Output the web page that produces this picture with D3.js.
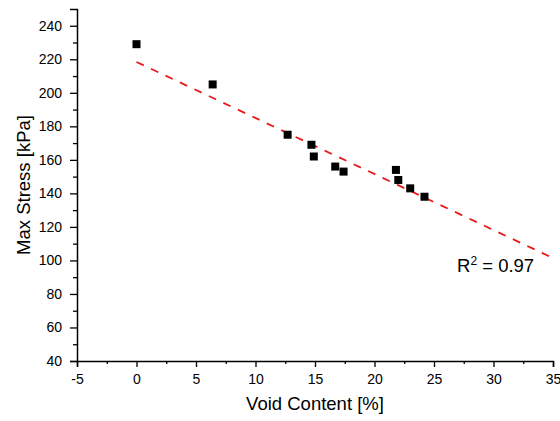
<!DOCTYPE html>
<html>
<head>
<meta charset="utf-8">
<script src="https://cdn.jsdelivr.net/npm/d3@7"></script>
<style>
  body { margin: 0; background: #fff; }
  svg text { font-family: Arial, "Liberation Sans", sans-serif; fill: #000; }
</style>
</head>
<body>
<div id="chart"></div>
<script>
// measured points: void content [%] vs max stress [kPa]
const voidContent = [0, 6.4, 12.7, 14.7, 14.9, 16.7, 17.4, 21.8, 22.0, 23.0, 24.2];
const maxStress   = [229, 205, 175, 169, 162, 156, 153, 154, 148, 143, 138];
// linear fit shown as red dashed line
const fitX = [0, 35];
const fitY = [218.4, 101.4];
const xTicks = [-5, 0, 5, 10, 15, 20, 25, 30, 35];
const yTicks = [40, 60, 80, 100, 120, 140, 160, 180, 200, 220, 240];
const r2Label = "0.97";

const width = 560, height = 421;
const margin = {left: 77, right: 7, top: 9, bottom: 60};

const svg = d3.select("#chart").append("svg")
    .attr("width", width)
    .attr("height", height);

const x = d3.scaleLinear().domain([-5, 35]).range([margin.left, width - margin.right]);
const y = d3.scaleLinear().domain([40, 250]).range([height - margin.bottom, margin.top]);

// minor ticks
const xMinor = d3.range(-2.5, 35, 5);
const yMinor = d3.range(50, 250, 20);
const plain = d => String(d);

svg.append("g")
    .attr("transform", `translate(0,${y(40)})`)
    .call(d3.axisBottom(x).tickValues(xTicks).tickSize(6).tickPadding(7).tickFormat(plain));
svg.append("g")
    .attr("transform", `translate(0,${y(40)})`)
    .call(d3.axisBottom(x).tickValues(xMinor).tickSize(3).tickFormat(""))
    .select(".domain").remove();

svg.append("g")
    .attr("transform", `translate(${x(-5)},0)`)
    .call(d3.axisLeft(y).tickValues(yTicks).tickSize(7).tickPadding(8).tickFormat(plain));
svg.append("g")
    .attr("transform", `translate(${x(-5)},0)`)
    .call(d3.axisLeft(y).tickValues(yMinor).tickSize(4).tickFormat(""))
    .select(".domain").remove();

svg.selectAll(".domain").attr("stroke", "#000").attr("stroke-width", 1.5);
svg.selectAll(".tick line").attr("stroke", "#000").attr("stroke-width", 1.3);
svg.selectAll(".tick text")
    .style("font-size", "14px")
    .style("font-family", "Arial, 'Liberation Sans', sans-serif")
    .attr("fill", "#000");

// axis titles
svg.append("text")
    .attr("x", (x(-5) + x(35)) / 2)
    .attr("y", 410)
    .attr("text-anchor", "middle")
    .style("font-size", "18.5px")
    .text("Void Content [%]");

svg.append("text")
    .attr("transform", `translate(30,${(y(40) + y(250)) / 2}) rotate(-90)`)
    .attr("text-anchor", "middle")
    .style("font-size", "18.5px")
    .text("Max Stress [kPa]");

// fit line
svg.append("line")
    .attr("x1", x(fitX[0])).attr("y1", y(fitY[0]))
    .attr("x2", x(fitX[1])).attr("y2", y(fitY[1]))
    .attr("stroke", "#e8191a")
    .attr("stroke-width", 1.8)
    .attr("stroke-dasharray", "8,8");

// data points
const sz = 8;
svg.selectAll("rect.pt")
    .data(voidContent.map((v, i) => ({v: v, s: maxStress[i]})))
    .enter().append("rect")
    .attr("class", "pt")
    .attr("x", d => x(d.v) - sz / 2)
    .attr("y", d => y(d.s) - sz / 2)
    .attr("width", sz)
    .attr("height", sz)
    .attr("fill", "#000");

// R^2 label
const r2 = svg.append("text")
    .attr("x", 457)
    .attr("y", 272)
    .style("font-size", "18.5px");
r2.append("tspan").text("R");
r2.append("tspan").attr("dy", -7).style("font-size", "12px").text("2");
r2.append("tspan").attr("dy", 7).text(" = " + r2Label);
</script>
</body>
</html>
